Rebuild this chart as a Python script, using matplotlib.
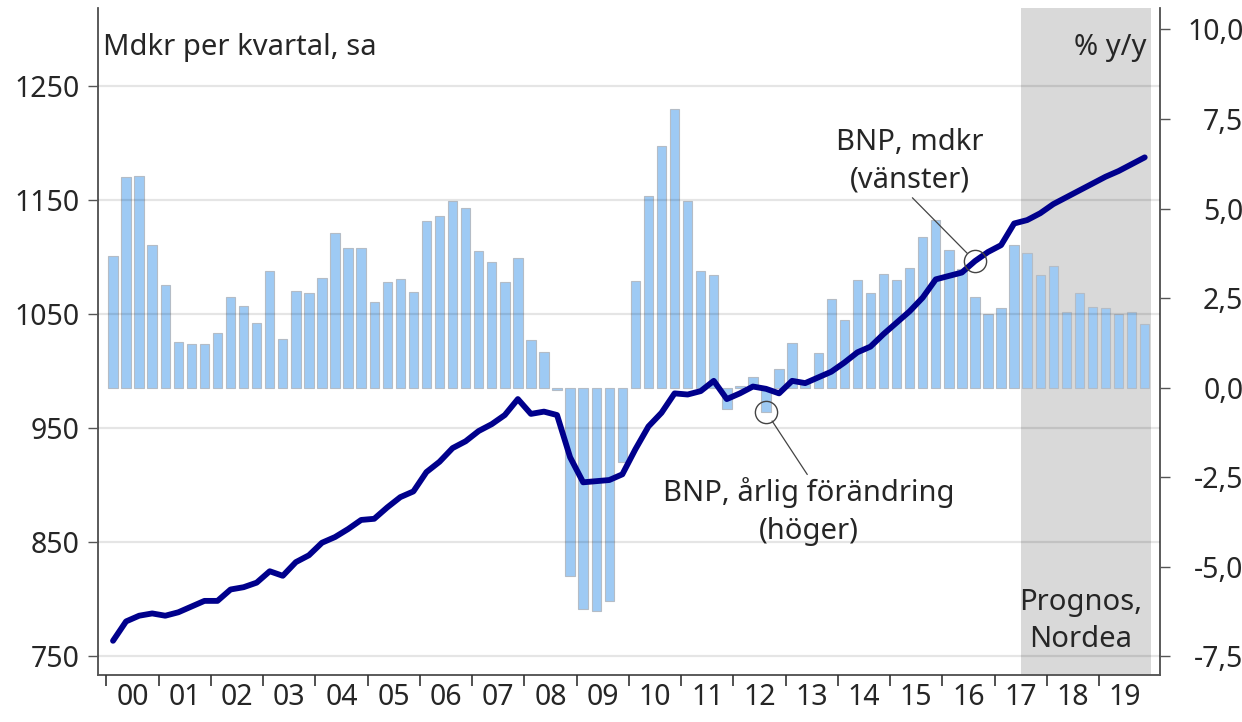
import matplotlib
matplotlib.use("Agg")
import matplotlib.pyplot as plt
import numpy as np

plt.rcParams["font.family"] = ["Noto Sans", "DejaVu Sans"]

# Kvartal 2000Q1 - 2019Q4
quarters = [f"{y}Q{q}" for y in range(2000, 2020) for q in range(1, 5)]
year_labels = [f"{y % 100:02d}" for y in range(2000, 2020)]

# BNP, mdkr per kvartal (vänster axel)
gdp_level = [
    763, 780, 785, 787,
    785, 788, 793, 798,
    798, 808, 810, 814,
    824, 820, 832, 838,
    849, 854, 861, 869,
    870, 880, 889, 894,
    911, 920, 932, 938,
    947, 953, 961, 975,
    962, 964, 961, 924,
    902, 903, 904, 909,
    931, 951, 963, 980,
    979, 982, 991, 975,
    980, 986, 984, 980,
    991, 989, 994, 999,
    1007, 1016, 1021, 1032,
    1042, 1052, 1064, 1080,
    1083, 1086, 1096, 1104,
    1110, 1129, 1132, 1138,
    1146, 1152, 1158, 1164,
    1170, 1175, 1181, 1187,
]

# BNP, årlig förändring % y/y (höger axel)
gdp_growth = [
    3.69, 5.87, 5.92, 3.97,
    2.88, 1.28, 1.23, 1.23,
    1.54, 2.54, 2.29, 1.82,
    3.27, 1.37, 2.71, 2.63,
    3.07, 4.33, 3.91, 3.91,
    2.40, 2.96, 3.04, 2.68,
    4.64, 4.78, 5.22, 5.03,
    3.83, 3.52, 2.96, 3.63,
    1.34, 1.00, -0.05, -5.25,
    -6.17, -6.23, -5.95, -2.07,
    2.99, 5.34, 6.76, 7.77,
    5.20, 3.27, 3.16, -0.60,
    0.05, 0.30, -0.67, 0.52,
    1.25, 0.10, 0.97, 2.49,
    1.90, 3.00, 2.63, 3.18,
    3.00, 3.33, 4.22, 4.68,
    3.85, 3.30, 2.54, 2.07,
    2.23, 3.97, 3.76, 3.15,
    3.41, 2.11, 2.65, 2.26,
    2.23, 2.07, 2.12, 1.79,
]

forecast_start = "2017Q3"

left_ticks = [750, 850, 950, 1050, 1150, 1250]
right_ticks = [-7.5, -5.0, -2.5, 0.0, 2.5, 5.0, 7.5, 10.0]

TXT = "#262626"
FS = 21      # annotations
TFS = 20.5   # tick labels

x = np.arange(len(quarters))
fc_idx = quarters.index(forecast_start)

fig = plt.figure(figsize=(12.42, 7.22), dpi=100)
ax = fig.add_axes([98 / 1242, 1 - 675 / 722, (1160 - 98) / 1242, (675 - 8) / 722])
ax2 = ax.twinx()

# bars on the right axis, drawn below the line
ax2.axvspan(fc_idx - 0.5, len(x) - 0.5, color="#d9d9d9", lw=0, zorder=0)
ax2.bar(x, gdp_growth, width=0.72, color="#9ecaf4", edgecolor="#b4bcc6",
        linewidth=0.8, zorder=2)
ax2.set_ylim(-8.02, 10.6)
ax2.set_yticks(right_ticks)
ax2.set_yticklabels([f"{v:.1f}".replace(".", ",") for v in right_ticks])
ax2.tick_params(axis="y", length=7, width=1, color="#555555", labelsize=TFS,
                labelcolor=TXT, pad=53)
for lbl in ax2.get_yticklabels():
    lbl.set_horizontalalignment("right")

ax.set_zorder(ax2.get_zorder() + 1)
ax.patch.set_visible(False)
ax.plot(x, gdp_level, color="#00008c", lw=4.2, solid_joinstyle="round",
        solid_capstyle="round", zorder=3)
ax.set_ylim(733, 1318)
ax.set_xlim(-1.15, 80.17)
ax.set_yticks(left_ticks)
ax.yaxis.grid(True, color="black", alpha=0.1, lw=1.6)
ax.set_axisbelow(False)
ax.tick_params(axis="y", length=7, width=1, color="#555555", labelsize=TFS,
               labelcolor=TXT, pad=6)

# x axis: ticks at year boundaries, labels in the middle of each year
ax.set_xticks(np.arange(0, 80, 4) - 0.5)
ax.set_xticklabels([])
ax.set_xticks(np.arange(0, 80, 4) + 1.5, minor=True)
ax.set_xticklabels(year_labels, minor=True)
ax.tick_params(axis="x", which="major", length=8, width=1.2, color="#333333")
ax.tick_params(axis="x", which="minor", length=0, labelsize=TFS,
               labelcolor=TXT, pad=6)

for a in (ax, ax2):
    a.spines["top"].set_visible(False)
    for s in ("left", "right", "bottom"):
        a.spines[s].set_color("#555555")
        a.spines[s].set_linewidth(1.1)

ax.text(0.005, 0.9415, "Mdkr per kvartal, sa", transform=ax.transAxes,
        fontsize=FS, color=TXT, ha="left", va="center")
ax.text(0.987, 0.9415, "% y/y", transform=ax.transAxes,
        fontsize=FS, color=TXT, ha="right", va="center")
ax.text(0.9256, 0.081, "Prognos,\nNordea", transform=ax.transAxes,
        fontsize=FS, color=TXT, ha="center", va="center", linespacing=1.4)

# annotations with circles
i1 = 66
ax.plot(x[i1], gdp_level[i1], "o", ms=16, mfc="none", mec="#444444",
        mew=1.0, zorder=4)
ax.annotate("BNP, mdkr\n(vänster)", xy=(x[i1], gdp_level[i1]),
            xytext=(61.0, 1154), ha="center", va="bottom", fontsize=FS,
            color=TXT, linespacing=1.4,
            arrowprops=dict(arrowstyle="-", color="#444444", lw=0.9,
                            shrinkA=0, shrinkB=8, relpos=(0.5, 0.0)))

i2 = 50
ax2.plot(x[i2], gdp_growth[i2], "o", ms=16, mfc="none", mec="#444444",
         mew=1.0, zorder=4)
ax2.annotate("BNP, årlig förändring\n(höger)", xy=(x[i2], gdp_growth[i2]),
             xytext=(53.3, -2.5), ha="center", va="top", fontsize=FS,
             color=TXT, linespacing=1.4,
             arrowprops=dict(arrowstyle="-", color="#444444", lw=0.9,
                             shrinkA=0, shrinkB=8, relpos=(0.5, 1.0)))

fig.savefig("out.png", dpi=100)
